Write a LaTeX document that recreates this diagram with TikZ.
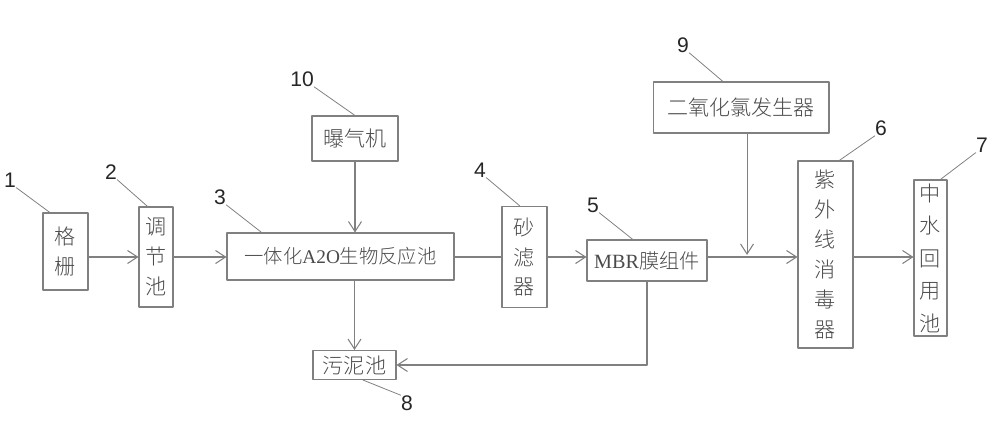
\documentclass[tikz,border=0pt]{standalone}
\usepackage{fontspec}
\setmainfont{Liberation Serif}
\newfontfamily\cjk{Noto Sans CJK SC Light}
\newfontfamily\numfont{Liberation Sans}
\usetikzlibrary{arrows.meta,calc}
\definecolor{linegray}{HTML}{808080}
\definecolor{textgray}{HTML}{4A4A4A}

\begin{document}
\begin{tikzpicture}[x=0.02cm, y=-0.02cm, >={Straight Barb[length=2mm,width=2.6mm]},
  line cap=round, line join=round,
  box/.style={draw=linegray, line width=0.6pt, inner sep=0pt, align=center, text=textgray, font=\cjk\fontsize{12}{17}\selectfont},
  tag/.style={inner sep=0pt, text=black!85, font=\numfont\fontsize{12}{14}\selectfont},
  flow/.style={draw=linegray, line width=0.6pt},
  leader/.style={draw=linegray, line width=0.45pt}]

\useasboundingbox (0,0) rectangle (1000,427);
\coordinate (main) at (0,257);

% process blocks
\node[box, minimum width=0.9cm, minimum height=1.54cm] (grille) at (65.5,251.5) {格\\栅};
\node[box, minimum width=0.68cm, minimum height=2.0cm] (tiao) at (156,257) {调\\节\\池};
\node[box, minimum width=4.54cm, minimum height=0.94cm, font=\cjk\fontsize{11}{14}\selectfont] (a2o) at (340.5,256.5) {一体化{\rmfamily A2O}生物反应池};
\node[box, minimum width=1.72cm, minimum height=0.9cm] (aer) at (355,138.5) {曝气机};
\node[box, minimum width=0.9cm, minimum height=2.02cm] (sand) at (524.5,257) {砂\\滤\\器};
\node[box, minimum width=2.4cm, minimum height=0.82cm, font=\cjk\fontsize{11.5}{14}\selectfont] (mbr) at (647,260.5) {{\rmfamily MBR}膜组件};
\node[box, minimum width=1.66cm, minimum height=0.58cm] (sludge) at (354.5,365) {污泥池};
\node[box, minimum width=3.52cm, minimum height=1.02cm] (clo2) at (741,107.5) {二氧化氯发生器};
\node[box, minimum width=1.1cm, minimum height=3.74cm] (uv) at (825.5,254.5) {紫\\外\\线\\消\\毒\\器};
\node[box, minimum width=0.66cm, minimum height=3.12cm, font=\cjk\fontsize{12}{18.5}\selectfont] (reuse) at (930.5,258) {中\\水\\回\\用\\池};

% number tags
\node[tag] (l1) at (10,180) {1};
\node[tag] (l2) at (111,172) {2};
\node[tag] (l3) at (220,197) {3};
\node[tag] (l10) at (302,79) {10};
\node[tag] (l4) at (480,170) {4};
\node[tag] (l5) at (593,205) {5};
\node[tag] (l9) at (683,45) {9};
\node[tag] (l6) at (881,128) {6};
\node[tag] (l7) at (982,145) {7};
\node[tag] (l8) at (407,403) {8};

% main flow
\draw[flow, ->] (grille.east |- main) -- (tiao.west |- main);
\draw[flow, ->] (tiao.east |- main) -- (a2o.west |- main);
\draw[flow] (a2o.east |- main) -- (sand.west |- main);
\draw[flow, ->] (sand.east |- main) -- (mbr.west |- main);
\draw[flow, ->] (mbr.east |- main) -- (uv.west |- main);
\draw[flow, ->] (uv.east |- main) -- (reuse.west |- main);
\draw[flow, ->] (aer.south) -- (aer.south |- a2o.north);
\draw[flow, ->] (a2o.south -| sludge.north) -- (sludge.north);
\draw[flow, ->] (mbr.south) -- (mbr.south |- sludge.east) -- (sludge.east);
\draw[flow, ->, shorten >=1.2pt] ($(clo2.south west)!0.534!(clo2.south east)$) coordinate (dose) -- (dose |- main);

% leaders
\draw[leader] (l1.south east) -- ($(grille.north west)!0.16!(grille.north east)$);
\draw[leader] (l2.south east) -- ($(tiao.north west)!0.26!(tiao.north east)$);
\draw[leader] (l3.south east) -- ($(a2o.north west)!0.154!(a2o.north east)$);
\draw[leader] (l10.south east) -- (aer.north);
\draw[leader] (l4.south east) -- ($(sand.north west)!0.4!(sand.north east)$);
\draw[leader] (l5.south east) -- ($(mbr.north west)!0.383!(mbr.north east)$);
\draw[leader] (l9.south east) -- ($(clo2.north west)!0.398!(clo2.north east)$);
\draw[leader] (l6.south west) -- ($(uv.north west)!0.745!(uv.north east)$);
\draw[leader] (l7.south west) -- ($(reuse.north west)!0.79!(reuse.north east)$);
\draw[leader] ($(sludge.south west)!0.6!(sludge.south east)$) -- (l8.north west);

\end{tikzpicture}
\end{document}
